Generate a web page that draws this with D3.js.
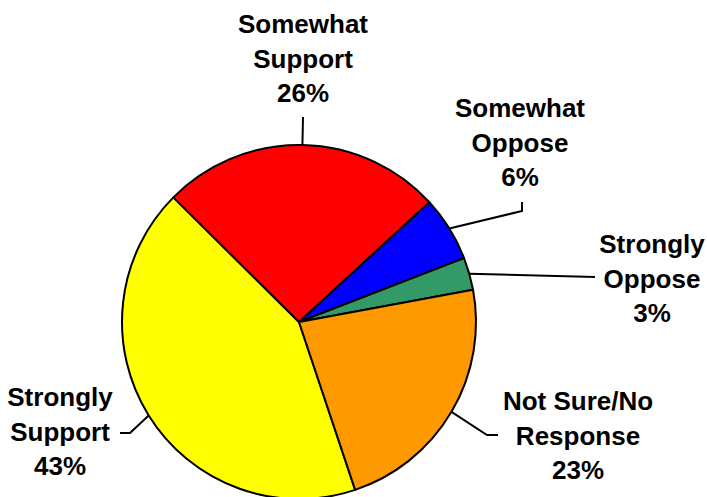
<!DOCTYPE html>
<html>
<head>
<meta charset="utf-8">
<script src="https://cdn.jsdelivr.net/npm/d3@7"></script>
<style>
  body { margin: 0; background: #fff; }
  svg text { font-family: "Liberation Sans", Arial, sans-serif; font-weight: bold; font-size: 26px; fill: #000; }
</style>
</head>
<body>
<svg width="707" height="497"></svg>
<script>
// data
var categories = ["Strongly Support", "Somewhat Support", "Somewhat Oppose", "Strongly Oppose", "Not Sure/No Response"];
var values = [43, 26, 6, 3, 23];
var labelLines = [["Strongly", "Support"], ["Somewhat", "Support"], ["Somewhat", "Oppose"], ["Strongly", "Oppose"], ["Not Sure/No", "Response"]];
var colors = ["#ffff00", "#ff0000", "#0000ff", "#339966", "#ff9900"];

var svg = d3.select("svg"),
    cx = 299, cy = 322, radius = 177,
    g = svg.append("g").attr("transform", "translate(" + cx + "," + cy + ")");

var startDeg = 161.5;
var pie = d3.pie().sort(null).value(function(d) { return d; })
    .startAngle(startDeg * Math.PI / 180)
    .endAngle(startDeg * Math.PI / 180 + 2 * Math.PI);
var arc = d3.arc().innerRadius(0).outerRadius(radius);

var arcs = pie(values);

g.selectAll("path.slice")
    .data(arcs)
    .enter().append("path")
    .attr("class", "slice")
    .attr("d", arc)
    .attr("fill", function(d, i) { return colors[i]; })
    .attr("stroke", "#000")
    .attr("stroke-width", 2)
    .attr("stroke-linejoin", "round");

// label layout (absolute page coords): leader bend points and text position
var layout = [
  {pts: [[130, 433], [120, 433]], tx: 60, ty: 406},
  {pts: [[303, 117]], tx: 303, ty: 33},
  {pts: [[522, 211], [522, 202]], tx: 520, ty: 117},
  {pts: [[595, 277]], tx: 652, ty: 253},
  {pts: [[487, 435], [498, 435]], tx: 578, ty: 410}
];
var lineGap = 34.5;

arcs.forEach(function(d, i) {
  var a = (d.startAngle + d.endAngle) / 2;
  var p0 = [cx + radius * Math.sin(a), cy - radius * Math.cos(a)];
  var pts = [p0].concat(layout[i].pts);
  svg.append("path")
      .attr("d", d3.line()(pts))
      .attr("fill", "none")
      .attr("stroke", "#000")
      .attr("stroke-width", 2);

  var lines = labelLines[i].concat([values[i] + "%"]);
  var t = svg.append("text").attr("text-anchor", "middle");
  lines.forEach(function(s, j) {
    t.append("tspan")
        .attr("x", layout[i].tx)
        .attr("y", layout[i].ty + j * lineGap)
        .text(s);
  });
});
</script>
</body>
</html>
